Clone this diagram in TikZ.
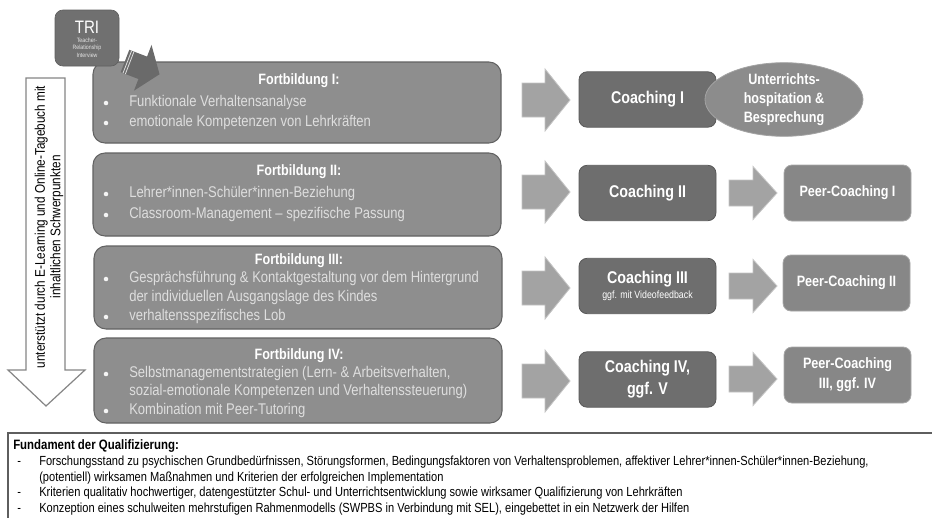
\documentclass[tikz,border=0pt]{standalone}
\usepackage{fontspec}
\setmainfont{Liberation Sans}[FakeStretch=0.84]
\usetikzlibrary{shapes.geometric}
\definecolor{fbFill}{HTML}{8E8E8E}
\definecolor{fbBorder}{HTML}{626262}
\definecolor{coFill}{HTML}{6E6E6E}
\definecolor{coBorder}{HTML}{585858}
\definecolor{peFill}{HTML}{878787}
\definecolor{peBorder}{HTML}{A8A8A8}
\definecolor{elFill}{HTML}{8C8C8C}
\definecolor{arFill}{HTML}{A3A3A3}
\definecolor{arBorder}{HTML}{C4C4C4}
\definecolor{bulText}{HTML}{DEDEDE}
\definecolor{triFill}{HTML}{707070}
\definecolor{hollowBorder}{HTML}{858585}
\definecolor{baseBorder}{HTML}{5E5E5E}
\newcommand\pxf[2]{\fontsize{\fpeval{#1*0.75}pt}{\fpeval{#2*0.75}pt}\selectfont}
\newcommand\blockarrow[6]{%
  \path[barrow] (#1,#4-#5) -- (#2,#4-#5) -- (#2,#4-#6) -- (#3,#4) -- (#2,#4+#6) -- (#2,#4+#5) -- (#1,#4+#5) -- cycle;}
\begin{document}
\begin{tikzpicture}[x=0.75pt,y=-0.75pt,
  fbox/.style={draw=fbBorder, fill=fbFill, line width=0.8pt, rounded corners=9pt, inner sep=0pt, minimum width=306pt},
  cobox/.style={draw=coBorder, fill=coFill, line width=0.6pt, rounded corners=6pt, inner sep=0pt, minimum width=102.75pt, minimum height=41.5pt, text=white, align=center},
  pebox/.style={draw=peBorder, fill=peFill, line width=0.6pt, rounded corners=6pt, inner sep=0pt, minimum width=95.25pt, minimum height=42pt, text=white, align=center},
  ftitle/.style={text=white, inner sep=0pt, anchor=mid, font=\pxf{15}{18}\bfseries},
  bul/.style={text=bulText, inner sep=0pt, anchor=mid west, font=\pxf{15.5}{18}},
  dot/.style={circle, fill=white!92!gray, inner sep=0pt, minimum size=3.4pt},
  barrow/.style={fill=arFill, draw=arBorder, line width=0.6pt},
  btext/.style={inner sep=0pt, anchor=mid west, text=black, font=\pxf{13.2}{15}},
]
\useasboundingbox (0,0) rectangle (932,518);
\fill[white] (0,0) rectangle (932,518);

% hollow down arrow
\draw[hollowBorder, fill=white, line width=0.9pt, line join=miter]
  (26,78) -- (65,78) -- (65,370) -- (85,370) -- (46,406) -- (8,370) -- (26,370) -- cycle;
\node (side) [rotate=90, align=center, inner sep=0pt, font=\pxf{14}{15.5}] at (49,227)
  {unterstützt durch E-Learning und Online-Tagebuch mit\\inhaltlichen Schwerpunkten};

% Fortbildung boxes
\node (f1) [fbox, minimum height=60.75pt] at (297,102.5) {};
\node (f2) [fbox, minimum height=62.25pt] at (297,194.5) {};
\node (f3) [fbox, minimum height=62.25pt] at (298,287.5) {};
\node (f4) [fbox, minimum height=63.75pt] at (298,380.5) {};

\node (f1t) [ftitle] at (299,81) {Fortbildung I:};
\node (f1d1) [dot] at (106,103) {};
\node (f1a) [bul] at (129,103) {Funktionale Verhaltensanalyse};
\node (f1d2) [dot] at (106,123) {};
\node (f1b) [bul] at (129,123) {emotionale Kompetenzen von Lehrkräften};

\node (f2t) [ftitle] at (299,172) {Fortbildung II:};
\node (f2d1) [dot] at (106,194) {};
\node (f2a) [bul] at (129,194) {Lehrer*innen-Schüler*innen-Beziehung};
\node (f2d2) [dot] at (106,215) {};
\node (f2b) [bul] at (129,215) {Classroom-Management -- spezifische Passung};

\node (f3t) [ftitle] at (299,261) {Fortbildung III:};
\node (f3d1) [dot] at (106,279) {};
\node (f3a) [bul] at (129,279) {Gesprächsführung \& Kontaktgestaltung vor dem Hintergrund};
\node (f3b) [bul] at (129,298) {der individuellen Ausgangslage des Kindes};
\node (f3d2) [dot] at (106,317) {};
\node (f3c) [bul] at (129,317) {verhaltensspezifisches Lob};

\node (f4t) [ftitle] at (299,356) {Fortbildung IV:};
\node (f4d1) [dot] at (106,374) {};
\node (f4a) [bul] at (129,374) {Selbstmanagementstrategien (Lern- \& Arbeitsverhalten,};
\node (f4b) [bul] at (129,392) {sozial-emotionale Kompetenzen und Verhaltenssteuerung)};
\node (f4d2) [dot] at (106,411) {};
\node (f4c) [bul] at (129,411) {Kombination mit Peer-Tutoring};

% TRI box and arrow
\node (tri) [draw=triFill!85!black, fill=triFill, line width=0.5pt, rounded corners=6pt, inner sep=0pt,
  minimum width=48pt, minimum height=42pt] at (87,38) {};
\node (trit) [text=white, inner sep=0pt, font=\pxf{18}{20}] at (87,27) {TRI};
\node (tris) [text=white!80!gray, inner sep=0pt, align=center, font=\pxf{6.2}{7.6}] at (87,47.5) {Teacher-\\Relationship\\Interview};
\begin{scope}[shift={(125,61)}, rotate=-21]
  \fill[triFill!95!black] (0,-12) -- (19,-12) -- (19,-24.5) -- (37,0) -- (19,24.5) -- (19,12) -- (0,12) -- cycle;
  \draw[white!75!gray, line width=0.6pt] (2.5,-12) -- (2.5,12) (5,-12) -- (5,12);
\end{scope}

% arrows Fortbildung -> Coaching
\blockarrow{522}{545}{570}{100}{17}{31}
\blockarrow{522}{545}{570}{192}{17}{31}
\blockarrow{522}{545}{570}{288}{17}{31}
\blockarrow{522}{545}{570}{381}{17}{31}

% Coaching boxes
\node (c1) [cobox, font=\pxf{17}{21}\bfseries] at (647.5,99.5) {Coaching I};
\node (c2) [cobox, font=\pxf{17}{21}\bfseries] at (647.5,193) {Coaching II};
\node (c3) [cobox] at (647.5,286) {\pxf{17}{18}\bfseries Coaching III\\[-1pt]\pxf{10.5}{12}ggf. mit Videofeedback};
\node (c4) [cobox, font=\pxf{17}{22}\bfseries] at (647.5,379.5) {Coaching IV,\\ggf. V};

% ellipse
\node (hosp) [ellipse, fill=elFill, draw=elFill!80!white, line width=0.6pt, inner sep=0pt,
  minimum width=118.5pt, minimum height=55pt, text=white, align=center, font=\pxf{15}{19}\bfseries]
  at (784,99.5) {Unterrichts-\\hospitation \&\\Besprechung};

% arrows Coaching -> Peer
\blockarrow{729}{753}{777}{193}{13}{26.5}
\blockarrow{729}{753}{777}{286}{13}{26.5}
\blockarrow{729}{753}{777}{379}{13}{26.5}

% Peer boxes
\node (p1) [pebox, font=\pxf{15}{19}\bfseries] at (847.5,193) {Peer-Coaching I};
\node (p2) [pebox, font=\pxf{15}{19}\bfseries] at (846.5,283) {Peer-Coaching II};
\node (p3) [pebox, font=\pxf{15}{20}\bfseries] at (847.5,375) {Peer-Coaching\\III, ggf. IV};

% Fundament
\draw[baseBorder, line width=1pt] (932,433) -- (8,433) -- (8,518);
\node (fund) [btext, font=\pxf{13.6}{15}\bfseries] at (13,446) {Fundament der Qualifizierung:};
\node (d1) [btext] at (17,462) {-};
\node (l1) [btext] at (39,462) {Forschungsstand zu psychischen Grundbedürfnissen, Störungsformen, Bedingungsfaktoren von Verhaltensproblemen, affektiver Lehrer*innen-Schüler*innen-Beziehung,};
\node (l2) [btext] at (39,477.5) {(potentiell) wirksamen Maßnahmen und Kriterien der erfolgreichen Implementation};
\node (d3) [btext] at (17,493) {-};
\node (l3) [btext] at (39,493) {Kriterien qualitativ hochwertiger, datengestützter Schul- und Unterrichtsentwicklung sowie wirksamer Qualifizierung von Lehrkräften};
\node (d4) [btext] at (17,508.5) {-};
\node (l4) [btext] at (39,508.5) {Konzeption eines schulweiten mehrstufigen Rahmenmodells (SWPBS in Verbindung mit SEL), eingebettet in ein Netzwerk der Hilfen};
\end{tikzpicture}
\end{document}
